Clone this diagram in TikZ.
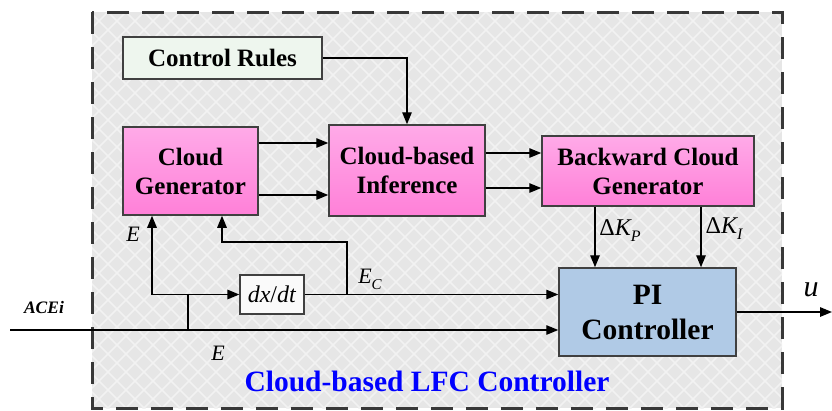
\documentclass[tikz,border=0pt]{standalone}
\usepackage{fontspec}
\setmainfont{Liberation Serif}
\usetikzlibrary{arrows.meta,calc}
\definecolor{bgc}{RGB}{230,230,230}
\definecolor{bgl}{RGB}{242,242,242}
\definecolor{edge}{RGB}{64,64,64}
\definecolor{dashcol}{RGB}{56,56,56}
\definecolor{pinkT}{RGB}{255,170,232}
\definecolor{pinkB}{RGB}{255,128,216}
\definecolor{crfill}{RGB}{238,246,238}
\definecolor{pifill}{RGB}{176,202,230}
\definecolor{dxfill}{RGB}{250,250,250}
\definecolor{ttl}{RGB}{0,0,255}
\begin{document}
\begin{tikzpicture}[x=1pt,y=-1pt,
  box/.style={draw=edge,line width=1.5pt,inner sep=0pt,align=center,font=\fontsize{25}{29}\selectfont\bfseries},
  pinkbox/.style={box,top color=pinkT,bottom color=pinkB},
  arr/.style={line width=1.4pt,-{Triangle[length=12pt,width=9.5pt]}},
  ln/.style={line width=1.4pt},
  lab/.style={font=\fontsize{22}{22}\selectfont\itshape,inner sep=0pt}]
\useasboundingbox (0,0) rectangle (832,410);
% background
\begin{scope}
\clip (92,12) rectangle (782,408);
\fill[bgc] (92,12) rectangle (782,408);
\foreach \i in {-336,-318,...,800} {
  \draw[bgl,line width=1.5pt] (\i,0) -- ++(420,420);
  \draw[bgl,line width=1.5pt] (\i+420,0) -- ++(-420,420);
}
\end{scope}
\draw[draw=dashcol,line width=3pt,dash pattern=on 22pt off 13pt] (92,12) rectangle (782,408);
% blocks
\node[box,fill=crfill,minimum width=199pt,minimum height=42pt] (cr) at (222.5,58) {Control Rules};
\node[pinkbox,minimum width=135pt,minimum height=88pt] (cg) at (190.5,171) {Cloud\\Generator};
\node[pinkbox,minimum width=156pt,minimum height=91pt] (inf) at (407,170.5) {Cloud-based\\Inference};
\node[pinkbox,minimum width=212pt,minimum height=70pt] (bcg) at (648,171) {Backward Cloud\\Generator};
\node[box,fill=pifill,font=\fontsize{29.5}{35}\selectfont\bfseries,minimum width=177pt,minimum height=88pt] (pi) at (647.5,312) {PI\\Controller};
\node[draw=edge,line width=1.3pt,fill=dxfill,inner sep=0pt,minimum width=64pt,minimum height=39pt,font=\fontsize{24}{24}\selectfont] (dx) at (272,294.5) {\textit{dx}/\textit{dt}};
% connectors
\draw[arr] (cr.east) -| (inf.north);
\draw[arr] ([yshift=28pt]cg.east) -- ([yshift=28pt]cg.east -| inf.west);
\draw[arr] ([yshift=-24pt]cg.east) -- ([yshift=-24pt]cg.east -| inf.west);
\draw[arr] ([yshift=17.5pt]inf.east) -- ([yshift=17.5pt]inf.east -| bcg.west);
\draw[arr] ([yshift=-17.5pt]inf.east) -- ([yshift=-17.5pt]inf.east -| bcg.west);
\draw[arr] ([xshift=-53pt]bcg.south) -- ([xshift=-53pt]bcg.south |- pi.north);
\draw[arr] ([xshift=53pt]bcg.south) -- ([xshift=53pt]bcg.south |- pi.north);
\coordinate (in) at (10,330);
\coordinate (br) at (188,330);
\coordinate (eL) at (152,294.5);
\coordinate (ec) at (347,294.5);
\coordinate (ecup) at (347,242);
\coordinate (cgin) at (222,242);
\coordinate (out) at (832,312);
\draw[arr] (in) -- (in -| pi.west);
\draw[ln] (br) -- (br |- dx.west);
\draw[arr] (eL) -- (dx.west);
\draw[arr] (eL) -- (eL |- cg.south);
\draw[arr] (dx.east) -- (dx.east -| pi.west);
\draw[arr] (ec) -- (ecup) -- (cgin) -- (cgin |- cg.south);
\draw[arr] (pi.east |- out) -- (out);
% labels
\node[lab] (lE1) at (133,234) {E};
\node[lab] (lE2) at (218,353) {E};
\node[lab] (lEc) at (370,279) {E\raisebox{-6pt}{\fontsize{15}{15}\selectfont C}};
\node[lab,font=\fontsize{24}{24}\selectfont\itshape] (lkp) at (620,231) {{\upshape Δ}K\raisebox{-6pt}{\fontsize{16}{16}\selectfont P}};
\node[lab,font=\fontsize{24}{24}\selectfont\itshape] (lki) at (724,229) {{\upshape Δ}K\raisebox{-6pt}{\fontsize{16}{16}\selectfont I}};
\node[lab,font=\fontsize{30}{30}\selectfont\itshape] (lu) at (811,290) {u};
\node[lab,font=\fontsize{17.5}{17.5}\selectfont\bfseries\itshape] (lace) at (44,308) {ACEi};
\node[font=\fontsize{29.5}{29.5}\selectfont\bfseries,text=ttl,inner sep=0pt] (title) at (427,381) {Cloud-based LFC Controller};
\end{tikzpicture}
\end{document}
